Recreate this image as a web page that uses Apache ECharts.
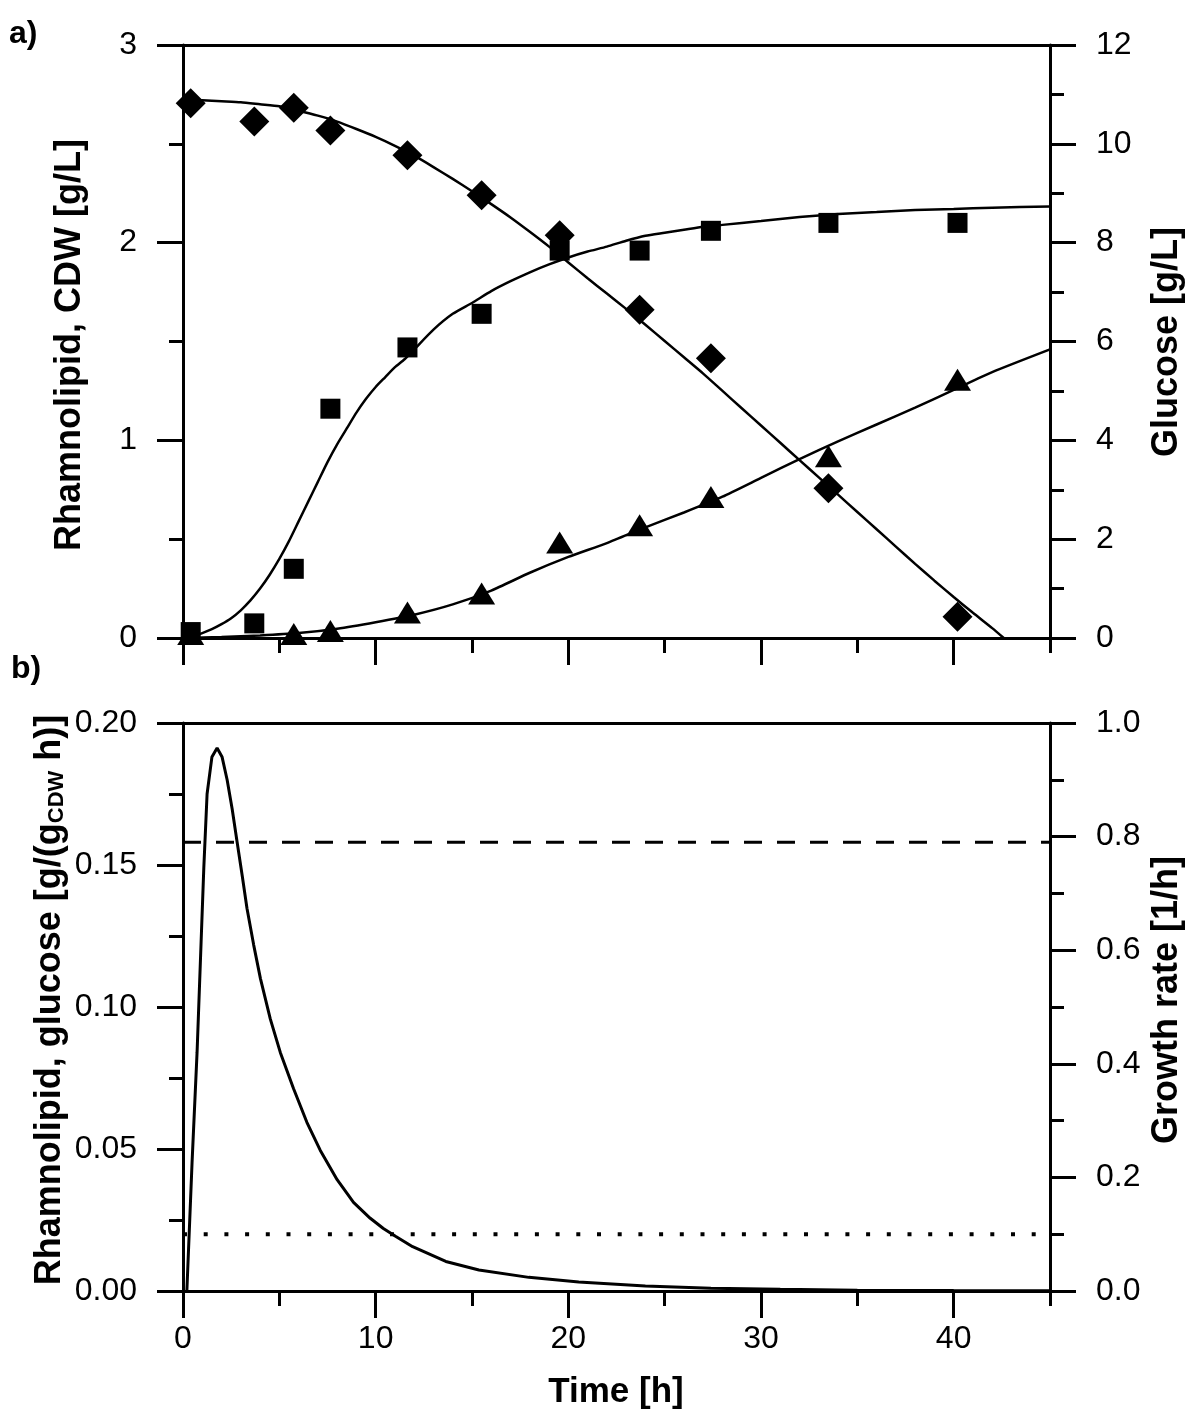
<!DOCTYPE html>
<html>
<head>
<meta charset="utf-8">
<title>Rhamnolipid batch cultivation</title>
<script src="https://cdn.jsdelivr.net/npm/echarts@6/dist/echarts.min.js"></script>
<style>
  html, body { margin: 0; padding: 0; background: #fff; }
  #chart { width: 1200px; height: 1421px; }
</style>
</head>
<body>
<div id="chart"></div>
<script>
// ---- panel a: measured samples ----
var sampleTimes = [0.4, 3.7, 5.75, 7.65, 11.65, 15.5, 19.55, 23.7, 27.4, 33.5, 40.2];
var glucoseData = [10.82, 10.45, 10.73, 10.27, 9.77, 8.96, 8.15, 6.64, 5.66, 3.03, 0.43];
var cdwData = [0.03, 0.074, 0.35, 1.16, 1.47, 1.64, 1.96, 1.96, 2.06, 2.10, 2.10];
var rhlTimes = [0.4, 5.75, 7.65, 11.65, 15.5, 19.55, 23.7, 27.4, 33.5, 40.2];
var rhlData = [0.02, 0.02, 0.035, 0.129, 0.225, 0.483, 0.57, 0.713, 0.92, 1.307];

// ---- panel a: model curves ----
var glcFitT = [0, 1, 2, 3, 4, 5, 6, 7, 8, 9, 10, 11, 12, 13, 14, 15, 16, 17, 18, 19, 20, 21,
  22, 23, 24, 25, 26, 27, 28, 29, 30, 31, 32, 33, 34, 35, 36, 37, 38, 39, 40, 41, 42, 42.6];
var glcFit = [10.90, 10.88, 10.86, 10.84, 10.80, 10.76, 10.67, 10.57, 10.45, 10.30, 10.14, 9.96,
  9.76, 9.53, 9.29, 9.04, 8.78, 8.51, 8.22, 7.92, 7.60, 7.28, 6.97, 6.66, 6.34, 6.01, 5.68,
  5.35, 5.00, 4.65, 4.30, 3.95, 3.60, 3.25, 2.90, 2.55, 2.20, 1.85, 1.50, 1.16, 0.83, 0.51, 0.20, 0.0];
var cdwFitT = [0, 0.5, 1, 1.5, 2, 2.5, 3, 3.5, 4, 4.5, 5, 5.5, 6, 6.5, 7, 7.5, 8, 8.5, 9, 9.5,
  10, 10.5, 11, 11.5, 12, 13, 14, 15, 16, 17, 18, 19, 20, 21, 22, 23, 24, 25, 26, 27, 28,
  30, 32, 34, 36, 38, 40, 42, 45];
var cdwFit = [0, 0.008, 0.025, 0.045, 0.07, 0.10, 0.14, 0.19, 0.25, 0.32, 0.40, 0.49, 0.59,
  0.69, 0.79, 0.89, 0.98, 1.06, 1.14, 1.21, 1.27, 1.32, 1.37, 1.41, 1.46, 1.56, 1.64, 1.695,
  1.755, 1.805, 1.85, 1.89, 1.925, 1.955, 1.98, 2.01, 2.035, 2.05, 2.065, 2.08, 2.09,
  2.11, 2.13, 2.145, 2.155, 2.165, 2.17, 2.177, 2.183];
var rhlFitT = [0, 2, 4, 6, 8, 10, 12, 14, 16, 18, 20, 22, 24, 26, 28, 30, 32, 34, 36, 38, 40, 42, 45];
var rhlFit = [0, 0.005, 0.013, 0.025, 0.047, 0.08, 0.118, 0.17, 0.24, 0.33, 0.41, 0.48, 0.56,
  0.635, 0.715, 0.81, 0.905, 0.995, 1.08, 1.165, 1.255, 1.345, 1.46];

// ---- panel b: specific rates ----
var muT = [0.2, 0.47, 0.73, 0.94, 1.08, 1.25, 1.5, 1.77, 2.03, 2.29, 2.55, 2.81, 3.07, 3.32,
  3.67, 4.02, 4.53, 5.05, 5.74, 6.43, 7.12, 8.0, 8.85, 9.72, 10.4, 11.05, 11.92, 13.64,
  15.36, 17.95, 20.54, 24, 27.4, 31, 35, 40, 45];
var muVals = [0, 0.226, 0.42, 0.615, 0.745, 0.875, 0.94, 0.956, 0.94, 0.90, 0.849, 0.79,
  0.732, 0.674, 0.609, 0.55, 0.479, 0.42, 0.356, 0.297, 0.248, 0.196, 0.156, 0.128, 0.11,
  0.096, 0.078, 0.052, 0.037, 0.024, 0.016, 0.009, 0.005, 0.003, 0.0015, 0.0008, 0.0004];
var glcRate = 0.158;
var rhlRate = 0.02;

// ---- tick positions ----
var majorTicksX = [0, 10, 20, 30, 40];
var minorTicksX = [5, 15, 25, 35, 45];
var minorTicksCdw = [0.5, 1.5, 2.5];
var minorTicksGlc = [1, 3, 5, 7, 9, 11];
var minorTicksRate = [0.025, 0.075, 0.125, 0.175];
var minorTicksMu = [0.1, 0.3, 0.5, 0.7, 0.9];

function pairs(xs, ys) {
  return xs.map(function (x, i) { return [x, ys[i]]; });
}

var FONT = "'Liberation Sans', Arial, sans-serif";
var black = '#000';
var axisLn = { color: black, width: 3 };

function xAxes(grid, labels) {
  return [
    {
      gridIndex: grid, type: 'value', min: 0, max: 45, position: 'bottom',
      axisLine: { show: true, onZero: false, lineStyle: axisLn },
      axisTick: { show: true, customValues: majorTicksX, length: 27, lineStyle: axisLn },
      axisLabel: labels ? { show: true, customValues: majorTicksX, margin: 32, color: black,
        fontFamily: FONT, fontSize: 32 } : { show: false },
      splitLine: { show: false }
    },
    {
      gridIndex: grid, type: 'value', min: 0, max: 45, position: 'bottom',
      axisLine: { show: false, onZero: false },
      axisTick: { show: true, customValues: minorTicksX, length: 15, lineStyle: axisLn },
      axisLabel: { show: false }, splitLine: { show: false }
    },
    {
      gridIndex: grid, type: 'value', min: 0, max: 45, position: 'top',
      axisLine: { show: true, onZero: false, lineStyle: axisLn },
      axisTick: { show: false }, axisLabel: { show: false }, splitLine: { show: false }
    }
  ];
}

function yMajor(grid, pos, max, step, digits) {
  return {
    gridIndex: grid, type: 'value', position: pos, min: 0, max: max, interval: step,
    axisLine: { show: true, onZero: false, lineStyle: axisLn },
    axisTick: { show: true, length: 26, lineStyle: axisLn },
    axisLabel: {
      margin: 46, color: black, fontFamily: FONT, fontSize: 32,
      formatter: function (v) { return v.toFixed(digits); }
    },
    splitLine: { show: false }
  };
}

function yMinor(grid, pos, max, ticks) {
  return {
    gridIndex: grid, type: 'value', position: pos, min: 0, max: max,
    axisLine: { show: false, onZero: false },
    axisTick: { show: true, customValues: ticks, length: 14, lineStyle: axisLn },
    axisLabel: { show: false }, splitLine: { show: false }
  };
}

function title(text, x, y, rich) {
  return {
    type: 'text', x: x, y: y, rotation: Math.PI / 2,
    style: {
      text: text, font: 'bold 36px ' + FONT, fill: black,
      align: 'center', verticalAlign: 'middle', rich: rich || undefined
    }
  };
}

function curve(name, xi, yi, data, style, smooth) {
  return {
    name: name, type: 'line', xAxisIndex: xi, yAxisIndex: yi, data: data,
    showSymbol: false, symbol: 'none', smooth: smooth || false, z: 3,
    lineStyle: style, silent: true
  };
}

function marks(name, xi, yi, data, symbol, size) {
  return {
    name: name, type: 'scatter', xAxisIndex: xi, yAxisIndex: yi, data: data,
    symbol: symbol, symbolSize: size, z: 5,
    itemStyle: { color: black, opacity: 1 }
  };
}

var subRich = {
  t: { font: 'bold 36px ' + FONT, fill: black, lineHeight: 44, verticalAlign: 'bottom' },
  s: { font: 'bold 22px ' + FONT, fill: black, lineHeight: 22, verticalAlign: 'bottom' }
};

var chart = echarts.init(document.getElementById('chart'), null, { renderer: 'canvas' });

var option = {
  animation: false,
  backgroundColor: '#fff',
  grid: [
    { left: 183, top: 45, width: 867, height: 593 },
    { left: 183, top: 723, width: 867, height: 568 }
  ],
  xAxis: xAxes(0, false).concat(xAxes(1, true)),
  yAxis: [
    yMajor(0, 'left', 3, 1, 0),
    yMajor(0, 'right', 12, 2, 0),
    yMajor(1, 'left', 0.2, 0.05, 2),
    yMajor(1, 'right', 1.0, 0.2, 1),
    yMinor(0, 'left', 3, minorTicksCdw),
    yMinor(0, 'right', 12, minorTicksGlc),
    yMinor(1, 'left', 0.2, minorTicksRate),
    yMinor(1, 'right', 1.0, minorTicksMu)
  ],
  graphic: [
    { type: 'text', left: 9, top: 18, style: { text: 'a)', font: 'bold 32px ' + FONT, fill: black } },
    { type: 'text', left: 11, top: 653, style: { text: 'b)', font: 'bold 32px ' + FONT, fill: black } },
    title('Rhamnolipid, CDW [g/L]', 70, 345),
    title('Glucose [g/L]', 1167, 342),
    title('{t|Rhamnolipid, glucose [g/(g}{s|CDW}{t| h)]}', 46, 1000, subRich),
    title('Growth rate [1/h]', 1167, 1000),
    {
      type: 'text', x: 616, y: 1392,
      style: { text: 'Time [h]', font: 'bold 35px ' + FONT, fill: black, align: 'center', verticalAlign: 'middle' }
    }
  ],
  series: [
    curve('Glucose model', 0, 1, pairs(glcFitT, glcFit), { color: black, width: 2.5 }, 0.2),
    curve('CDW model', 0, 0, pairs(cdwFitT, cdwFit), { color: black, width: 2.5 }, 0.2),
    curve('Rhamnolipid model', 0, 0, pairs(rhlFitT, rhlFit), { color: black, width: 2.5 }, 0.2),
    marks('Glucose', 0, 1, pairs(sampleTimes, glucoseData), 'diamond', 30),
    marks('CDW', 0, 0, pairs(sampleTimes, cdwData), 'rect', 20),
    marks('Rhamnolipid', 0, 0, pairs(rhlTimes, rhlData), 'triangle', [27, 22]),
    curve('Growth rate', 3, 3, pairs(muT, muVals), { color: black, width: 3 }, false),
    curve('Glucose uptake rate', 3, 2, [[0, glcRate], [45, glcRate]], { color: black, width: 3, type: [18, 15] }),
    curve('Rhamnolipid production rate', 3, 2, [[0, rhlRate], [45, rhlRate]], { color: black, width: 4, type: [4, 16.7] })
  ]
};

chart.setOption(option);
</script>
</body>
</html>
